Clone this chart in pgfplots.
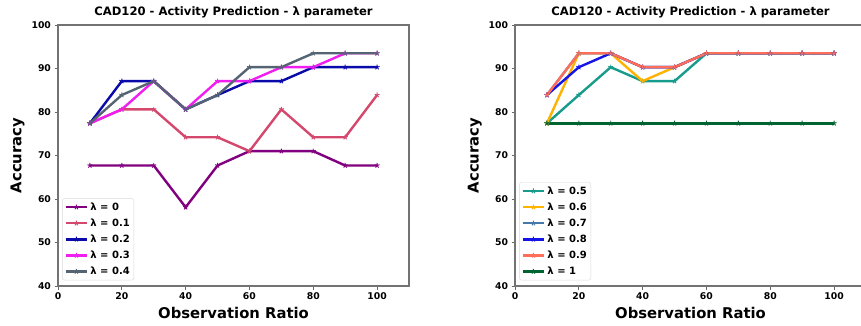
\documentclass[border=0pt]{standalone}
\usepackage{fontspec}
\setmainfont{DejaVu Sans}
\usepackage{pgfplots}
\pgfplotsset{compat=1.18}

\definecolor{c0}{RGB}{128,0,128}
\definecolor{c1}{RGB}{212,72,110}
\definecolor{c2}{RGB}{10,10,170}
\definecolor{c3}{RGB}{240,30,240}
\definecolor{c4}{RGB}{85,100,115}
\definecolor{c5}{RGB}{22,155,140}
\definecolor{c6}{RGB}{255,178,0}
\definecolor{c7}{RGB}{70,120,170}
\definecolor{c8}{RGB}{20,20,230}
\definecolor{c9}{RGB}{255,110,90}
\definecolor{c10}{RGB}{0,100,50}

\pgfplotsset{mystyle/.style={
  scale only axis, width=351pt, height=261pt,
  xmin=0, xmax=110, ymin=40, ymax=100,
  xtick={0,20,...,100}, ytick={40,50,...,100},
  tick align=outside, xtick pos=bottom, ytick pos=left,
  major tick length=3.5pt,
  axis line style={black!55, line width=1.1pt},
  tick style={black!60, line width=0.8pt},
  tick label style={font=\fontsize{9.3}{10}\selectfont\bfseries},
  /pgf/number format/assume math mode=true,
  title style={font=\fontsize{11.6}{13}\selectfont\bfseries, yshift=-3pt},
  label style={font=\fontsize{14.8}{16}\selectfont\bfseries},
  xlabel={Observation Ratio}, ylabel={Accuracy},
  title={CAD120 - Activity Prediction - λ parameter},
  every axis plot/.append style={line width=2.4pt, mark=star, mark size=2.6pt, mark options={solid, line width=0.9pt}},
  legend style={font=\fontsize{10}{11}\selectfont\bfseries, draw=black!15, rounded corners=2pt, inner sep=2pt, row sep=3pt, at={(0.012,0.022)}, anchor=south west},
  legend cell align=left,
  legend image code/.code={\draw[mark repeat=2, mark phase=2, #1] plot coordinates {(0cm,0cm) (0.38cm,0cm) (0.76cm,0cm)};},
}}

\begin{document}
\begin{tikzpicture}
\useasboundingbox (0,0) rectangle (861pt,325pt);
\clip (0,0) rectangle (861pt,325pt);
\begin{axis}[mystyle, at={(58pt,39pt)}, anchor=south west]
\addplot[c0] coordinates {(10,67.7)(20,67.7)(30,67.7)(40,58.1)(50,67.7)(60,71.0)(70,71.0)(80,71.0)(90,67.7)(100,67.7)};
\addlegendentry{λ = 0}
\addplot[c1] coordinates {(10,77.4)(20,80.6)(30,80.6)(40,74.2)(50,74.2)(60,71.0)(70,80.6)(80,74.2)(90,74.2)(100,83.9)};
\addlegendentry{λ = 0.1}
\addplot[c2] coordinates {(10,77.4)(20,87.1)(30,87.1)(40,80.6)(50,83.9)(60,87.1)(70,87.1)(80,90.3)(90,90.3)(100,90.3)};
\addlegendentry{λ = 0.2}
\addplot[c3] coordinates {(10,77.4)(20,80.6)(30,87.1)(40,80.6)(50,87.1)(60,87.1)(70,90.3)(80,90.3)(90,93.5)(100,93.5)};
\addlegendentry{λ = 0.3}
\addplot[c4] coordinates {(10,77.4)(20,83.9)(30,87.1)(40,80.6)(50,83.9)(60,90.3)(70,90.3)(80,93.5)(90,93.5)(100,93.5)};
\addlegendentry{λ = 0.4}
\end{axis}
\begin{axis}[mystyle, at={(515pt,39pt)}, anchor=south west]
\addplot[c5] coordinates {(10,77.4)(20,83.9)(30,90.3)(40,87.1)(50,87.1)(60,93.5)(70,93.5)(80,93.5)(90,93.5)(100,93.5)};
\addlegendentry{λ = 0.5}
\addplot[c6] coordinates {(10,77.4)(20,93.5)(30,93.5)(40,87.1)(50,90.3)(60,93.5)(70,93.5)(80,93.5)(90,93.5)(100,93.5)};
\addlegendentry{λ = 0.6}
\addplot[c7] coordinates {(10,83.9)(20,93.5)(30,93.5)(40,90.3)(50,90.3)(60,93.5)(70,93.5)(80,93.5)(90,93.5)(100,93.5)};
\addlegendentry{λ = 0.7}
\addplot[c8] coordinates {(10,83.9)(20,90.3)(30,93.5)(40,90.3)(50,90.3)(60,93.5)(70,93.5)(80,93.5)(90,93.5)(100,93.5)};
\addlegendentry{λ = 0.8}
\addplot[c9] coordinates {(10,83.9)(20,93.5)(30,93.5)(40,90.3)(50,90.3)(60,93.5)(70,93.5)(80,93.5)(90,93.5)(100,93.5)};
\addlegendentry{λ = 0.9}
\addplot[c10] coordinates {(10,77.4)(20,77.4)(30,77.4)(40,77.4)(50,77.4)(60,77.4)(70,77.4)(80,77.4)(90,77.4)(100,77.4)};
\addlegendentry{λ = 1}
\end{axis}
\end{tikzpicture}
\end{document}
